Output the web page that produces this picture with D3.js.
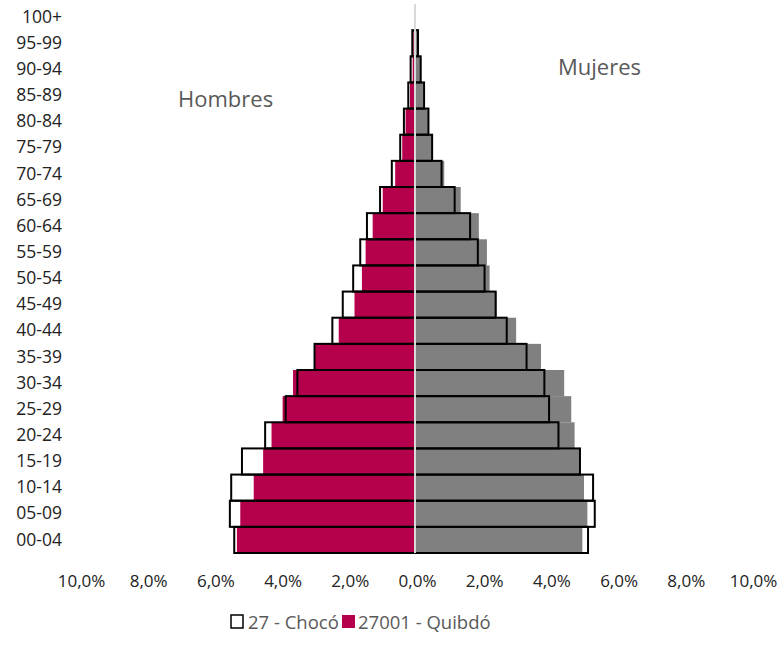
<!DOCTYPE html>
<html><head><meta charset="utf-8">
<script src="https://cdn.jsdelivr.net/npm/d3@7"></script>
<style>body{margin:0;background:#fff}svg{display:block;font-family:"Open Sans",sans-serif}</style>
</head><body><svg id="c" width="779" height="654"></svg>
<script>
const ages = ["00-04","05-09","10-14","15-19","20-24","25-29","30-34","35-39","40-44","45-49","50-54","55-59","60-64","65-69","70-74","75-79","80-84","85-89","90-94","95-99","100+"];
const chocoMen    = [5.38,5.51,5.47,5.15,4.46,3.85,3.50,2.99,2.46,2.15,1.84,1.63,1.43,1.04,0.69,0.44,0.33,0.20,0.13,0.08,0.0];
const quibdoMen   = [5.30,5.20,4.80,4.52,4.27,3.94,3.63,2.99,2.27,1.80,1.58,1.47,1.26,0.96,0.59,0.38,0.28,0.15,0.07,0.05,0.0];
const chocoWomen  = [5.15,5.35,5.30,4.91,4.27,3.99,3.85,3.32,2.73,2.40,2.07,1.87,1.64,1.18,0.79,0.51,0.40,0.27,0.17,0.09,0.0];
const quibdoWomen = [4.98,5.13,5.03,4.90,4.75,4.65,4.44,3.75,3.01,2.43,2.22,2.14,1.90,1.36,0.87,0.53,0.40,0.25,0.15,0.07,0.0];
const tickValues = [-10,-8,-6,-4,-2,0,2,4,6,8,10];
const seriesNames = ["27 - Chocó","27001 - Quibdó"];

const svg = d3.select("#c");
const x = d3.scaleLinear().domain([-10,10]).range([415-336, 415+336]);
const y = d3.scaleBand().domain(ages.slice().reverse()).range([4,553]).padding(0);

// Quibdó filled bars
svg.append("g").selectAll("rect").data(ages).join("rect")
  .attr("x", (d,i)=>x(-quibdoMen[i])).attr("y", d=>y(d))
  .attr("width", (d,i)=>x(0)-x(-quibdoMen[i])).attr("height", y.bandwidth())
  .attr("fill","#b5004b");
svg.append("g").selectAll("rect").data(ages).join("rect")
  .attr("x", x(0)).attr("y", d=>y(d))
  .attr("width", (d,i)=>x(quibdoWomen[i])-x(0)).attr("height", y.bandwidth())
  .attr("fill","#808080");

// Chocó outline bars
svg.append("g").selectAll("rect").data(ages.filter((d,i)=>chocoMen[i]>0)).join("rect")
  .attr("x", d=>x(-chocoMen[ages.indexOf(d)])).attr("y", d=>y(d))
  .attr("width", d=>x(0)-x(-chocoMen[ages.indexOf(d)])).attr("height", y.bandwidth())
  .attr("fill","none").attr("stroke","#000").attr("stroke-width",2);
svg.append("g").selectAll("rect").data(ages.filter((d,i)=>chocoWomen[i]>0)).join("rect")
  .attr("x", x(0)).attr("y", d=>y(d))
  .attr("width", d=>x(chocoWomen[ages.indexOf(d)])-x(0)).attr("height", y.bandwidth())
  .attr("fill","none").attr("stroke","#000").attr("stroke-width",2);

// center axis line
svg.append("line").attr("x1",x(0)).attr("x2",x(0)).attr("y1",4).attr("y2",553)
  .attr("stroke","#d9d9d9").attr("stroke-width",2);

// category labels
const yAxis = d3.axisLeft(y).tickSize(0).tickPadding(0);
const gy = svg.append("g").attr("transform","translate(62,0)").call(yAxis);
gy.select(".domain").remove();
gy.selectAll("text").attr("font-size",17.5).attr("fill","#222").attr("font-family","'Open Sans',sans-serif");

// value axis labels
const fmt = v => d3.format(".1f")(Math.abs(v)).replace(".",",")+"%";
const xAxis = d3.axisBottom(x).tickValues(tickValues).tickFormat(fmt).tickSize(0).tickPadding(0);
const gx = svg.append("g").attr("transform","translate(2,575)").call(xAxis);
gx.select(".domain").remove();
gx.selectAll("text").attr("font-size",17).attr("fill","#222").attr("font-family","'Open Sans',sans-serif");

// side titles
svg.append("text").attr("x",178).attr("y",107).attr("font-size",22).attr("fill","#595959").text("Hombres");
svg.append("text").attr("x",558).attr("y",75).attr("font-size",22).attr("fill","#595959").text("Mujeres");

// legend
const lg = svg.append("g");
lg.append("rect").attr("x",231).attr("y",615).attr("width",12).attr("height",13).attr("fill","#fff").attr("stroke","#000").attr("stroke-width",1.5);
lg.append("text").attr("x",248).attr("y",629).attr("font-size",18.5).attr("fill","#595959").text(seriesNames[0]);
lg.append("rect").attr("x",342).attr("y",615).attr("width",13).attr("height",13).attr("fill","#b5004b");
lg.append("text").attr("x",358).attr("y",629).attr("font-size",18.5).attr("fill","#595959").text(seriesNames[1]);
</script></body></html>
